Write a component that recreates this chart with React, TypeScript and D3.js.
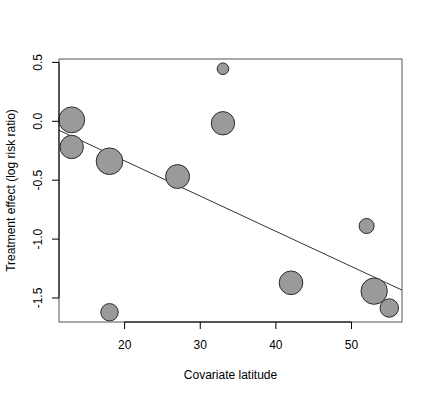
import React, { useEffect, useRef } from 'react';
import * as d3 from 'd3';

// ==================== DATA ====================
const latitude = [13, 13, 18, 18, 27, 33, 33, 42, 52, 53, 55];
const logRiskRatio = [0.012, -0.218, -0.339, -1.621, -0.469, 0.446, -0.017, -1.371, -0.889, -1.442, -1.585];
// relative study weights (drive point area)
const weights = [95, 77, 100, 43, 81, 19, 77, 79, 32, 98, 48];
// fitted meta-regression line
const intercept = 0.262;
const slope = -0.0299;

const xTicks = [20, 30, 40, 50];
const yTicks = [-1.5, -1.0, -0.5, 0.0, 0.5];

const W = 432;
const H = 396;
const FONT = "'Liberation Sans', Arial, Helvetica, sans-serif";

const App = () => {
    const svgRef = useRef<SVGSVGElement | null>(null);

    useEffect(() => {
        const svg = d3.select(svgRef.current);
        svg.selectAll('*').remove();

        const left = 59, right = 402, top = 59, bottom = 322;

        // R style 4% padding on both axes
        const pad = (ext: number[]) => {
            const r = ext[1] - ext[0];
            return [ext[0] - r * 0.04, ext[1] + r * 0.04];
        };
        const x = d3.scaleLinear().domain(pad(d3.extent(latitude) as number[])).range([left, right]);
        const y = d3.scaleLinear().domain(pad(d3.extent(logRiskRatio) as number[])).range([bottom, top]);
        const r = d3.scaleSqrt().domain([0, d3.max(weights) as number]).range([0, 13.3]);

        const g = svg.append('g');

        // regression line, clipped to plot region
        svg.append('clipPath').attr('id', 'plotclip')
            .append('rect').attr('x', left).attr('y', top).attr('width', right - left).attr('height', bottom - top);

        const [x0, x1] = x.domain();
        g.append('line')
            .attr('clip-path', 'url(#plotclip)')
            .attr('x1', x(x0)).attr('y1', y(intercept + slope * x0))
            .attr('x2', x(x1)).attr('y2', y(intercept + slope * x1))
            .attr('stroke', '#333')
            .attr('stroke-width', 1);

        // points, biggest first so small ones sit on top
        const idx = d3.range(latitude.length).sort((a, b) => weights[b] - weights[a]);
        g.selectAll('.pt')
            .data(idx)
            .enter()
            .append('circle')
            .attr('class', 'pt')
            .attr('cx', i => x(latitude[i]))
            .attr('cy', i => y(logRiskRatio[i]))
            .attr('r', i => r(weights[i]))
            .attr('fill', '#9a9a9a')
            .attr('stroke', '#2b2b2b')
            .attr('stroke-width', 1);

        // box
        g.append('rect')
            .attr('x', left).attr('y', top)
            .attr('width', right - left).attr('height', bottom - top)
            .attr('fill', 'none')
            .attr('stroke', '#555')
            .attr('stroke-width', 1);

        // x axis
        const xa = g.append('g');
        xa.append('line')
            .attr('x1', x(xTicks[0])).attr('x2', x(xTicks[xTicks.length - 1]))
            .attr('y1', bottom).attr('y2', bottom)
            .attr('stroke', '#000');
        xTicks.forEach(t => {
            xa.append('line')
                .attr('x1', x(t)).attr('x2', x(t))
                .attr('y1', bottom).attr('y2', bottom + 7)
                .attr('stroke', '#000');
            xa.append('text')
                .attr('x', x(t)).attr('y', bottom + 27)
                .attr('text-anchor', 'middle')
                .attr('font-family', FONT).attr('font-size', 12)
                .text(String(t));
        });

        // y axis
        const ya = g.append('g');
        ya.append('line')
            .attr('x1', left).attr('x2', left)
            .attr('y1', y(yTicks[0])).attr('y2', y(yTicks[yTicks.length - 1]))
            .attr('stroke', '#000');
        yTicks.forEach(t => {
            ya.append('line')
                .attr('x1', left - 7).attr('x2', left)
                .attr('y1', y(t)).attr('y2', y(t))
                .attr('stroke', '#000');
            ya.append('text')
                .attr('transform', `translate(${left - 17},${y(t)}) rotate(-90)`)
                .attr('text-anchor', 'middle')
                .attr('font-family', FONT).attr('font-size', 12)
                .text(t.toFixed(1));
        });

        // axis titles
        g.append('text')
            .attr('x', (left + right) / 2).attr('y', 379)
            .attr('text-anchor', 'middle')
            .attr('font-family', FONT).attr('font-size', 12)
            .text('Covariate latitude');

        g.append('text')
            .attr('transform', `translate(15,${(top + bottom) / 2}) rotate(-90)`)
            .attr('text-anchor', 'middle')
            .attr('font-family', FONT).attr('font-size', 12)
            .text('Treatment effect (log risk ratio)');
    }, []);

    return (
        <svg
            ref={svgRef}
            width={W}
            height={H}
            style={{ position: 'absolute', left: 0, top: 0, background: '#fff' }}
        />
    );
};

export default App;
